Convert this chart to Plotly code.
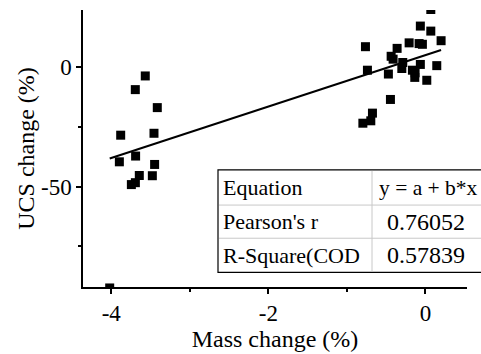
import plotly.graph_objects as go

# ---- data ----
mass_change = [-3.567, -3.694, -3.414, -3.880, -3.456, -3.897, -3.690, -3.448, -3.643,
               -3.477, -3.693, -3.744, -4.02,
               0.069, -0.064, 0.069, -0.763, -0.360, -0.207, -0.080, -0.038, 0.200,
               -0.436, -0.411, -0.288, -0.064, 0.145, -0.738, -0.300, -0.165, -0.471,
               -0.131, -0.135, 0.018, -0.445, -0.674, -0.695, -0.796]
ucs_change = [-3.9, -9.6, -17.1, -28.6, -27.8, -39.7, -37.3, -40.8, -45.4,
              -45.5, -48.4, -49.2, -92.3,
              23.8, 16.9, 14.8, 8.3, 7.6, 9.9, 9.6, 9.3, 10.8,
              4.3, 3.1, 1.7, 0.9, 0.4, -1.5, -0.8, -1.5, -3.1,
              -2.6, -4.5, -5.7, -13.7, -19.4, -22.6, -23.6]
fit_x = [-4.02, 0.20]
fit_y = [-38.3, 6.9]

x_tick_vals = [-4, -2, 0]
x_tick_labels = ["-4", "-2", "0"]
y_tick_vals = [0, -50]
y_tick_labels = ["0", "-50"]

table_labels = ["Equation", "Pearson's r", "R-Square(COD"]
table_values = ["y = a + b*x", "0.76052", "0.57839"]

# ---- figure ----
W, H = 481, 354
L, R, T, B = 83, 14, 10, 60
pw, ph = W - L - R, H - T - B

def px_x(p):
    return (p - L) / pw

def px_y(p):
    return (H - B - p) / ph

FONT = "Liberation Serif, Times New Roman, serif"

fig = go.Figure()
fig.add_trace(go.Scatter(x=mass_change, y=ucs_change, mode="markers",
                         marker=dict(symbol="square", size=9, color="black"),
                         showlegend=False))
fig.add_trace(go.Scatter(x=fit_x, y=fit_y, mode="lines",
                         line=dict(color="black", width=2), showlegend=False))

axis_common = dict(showgrid=False, zeroline=False, showline=True, linecolor="black",
                   linewidth=1.5, ticks="outside", ticklen=5, tickwidth=1.5,
                   tickcolor="black", tickfont=dict(family=FONT, size=23, color="black"))

fig.update_layout(
    width=W, height=H,
    margin=dict(l=L, r=R, t=T, b=B),
    font=dict(family=FONT, color="black"),
    paper_bgcolor="white", plot_bgcolor="white",
    xaxis=dict(range=[-4.36, 0.53], tickmode="array", tickvals=x_tick_vals,
               ticktext=x_tick_labels,
               title=dict(text="Mass change (%)", font=dict(family=FONT, size=24, color="black"),
                          standoff=1),
               minor=dict(ticks="outside", ticklen=3, dtick=1, tick0=0, tickcolor="black",
                          tickwidth=1.5, showgrid=False),
               **axis_common),
    yaxis=dict(range=[-91.9, 23.6], tickmode="array", tickvals=y_tick_vals,
               ticktext=y_tick_labels,
               title=dict(text="UCS change (%)", font=dict(family=FONT, size=24, color="black"),
                          standoff=0),
               minor=dict(ticks="outside", ticklen=3, dtick=25, tick0=0, tickcolor="black",
                          tickwidth=1.5, showgrid=False),
               **axis_common),
)

# ---- table inset (pixel layout converted to paper coords) ----
tx0, tx1, tx2 = 218, 372, 481 + 6
row_edges = [174, 210, 244, 279]
shapes = []
shapes.append(dict(type="rect", xref="paper", yref="paper",
                   x0=px_x(tx0), x1=px_x(tx2), y0=px_y(row_edges[-1]), y1=px_y(row_edges[0]),
                   fillcolor="white", line=dict(color="black", width=1.2), layer="above"))
for ry in row_edges[1:-1]:
    shapes.append(dict(type="line", xref="paper", yref="paper",
                       x0=px_x(tx0 + 1), x1=px_x(tx2), y0=px_y(ry), y1=px_y(ry),
                       line=dict(color="#c8c8c8", width=1), layer="above"))
shapes.append(dict(type="line", xref="paper", yref="paper",
                   x0=px_x(tx1), x1=px_x(tx1), y0=px_y(row_edges[-1] - 1), y1=px_y(row_edges[0] + 1),
                   line=dict(color="#c8c8c8", width=1), layer="above"))
fig.update_layout(shapes=shapes)

annots = []
for i, (lab, val) in enumerate(zip(table_labels, table_values)):
    yc = (row_edges[i] + row_edges[i + 1]) / 2
    annots.append(dict(xref="paper", yref="paper", x=px_x(tx0 + 3), y=px_y(yc),
                       xanchor="left", yanchor="middle", text=lab, showarrow=False,
                       font=dict(family=FONT, size=22, color="black")))
    if i == 0:
        annots.append(dict(xref="paper", yref="paper", x=px_x(377), y=px_y(yc),
                           xanchor="left", yanchor="middle", text=val, showarrow=False,
                           font=dict(family=FONT, size=21.5, color="black")))
    else:
        annots.append(dict(xref="paper", yref="paper", x=px_x(426), y=px_y(yc),
                           xanchor="center", yanchor="middle", text=val, showarrow=False,
                           font=dict(family=FONT, size=24, color="black")))
fig.update_layout(annotations=annots)

fig.write_html("out.html")
